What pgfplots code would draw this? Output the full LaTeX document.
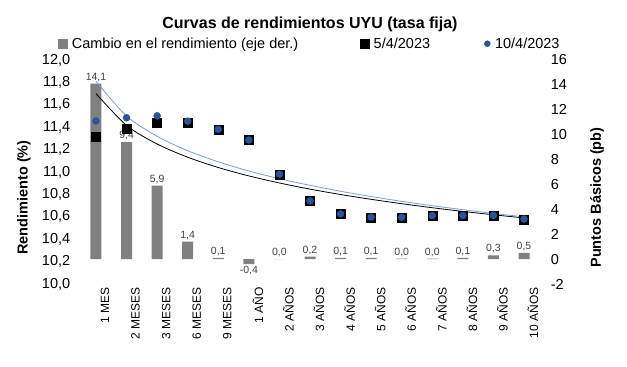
\documentclass[border=0pt]{standalone}
\usepackage{fontspec}
\setmainfont{Liberation Sans}
\usepackage{pgfplots}
\pgfplotsset{compat=1.18}
\definecolor{bargray}{RGB}{128,128,128}
\definecolor{dotblue}{RGB}{44,84,150}
\definecolor{trendblue}{RGB}{120,160,210}
\definecolor{lblgray}{RGB}{64,64,64}
\newcommand{\fbig}{\fontsize{14.5}{17}\selectfont}
\begin{document}
\begin{tikzpicture}
\path[use as bounding box] (0,0) rectangle (627pt,367pt);
% secondary axis: bars
\begin{axis}[
  at={(80.7pt,83pt)}, anchor=south west,
  scale only axis, width=458.6pt, height=224pt,
  xmin=0.5, xmax=15.5,
  ymin=-2, ymax=16, ytick={-2,0,...,16},
  axis y line*=right, axis x line=none,
  axis line style={draw=none}, major tick length=0pt,
  yticklabel style={font=\fbig, xshift=8pt},
  /pgf/number format/assume math mode=true,
  ylabel={\textbf{Puntos Básicos (pb)}},
  ylabel style={font=\fbig, at={(axis description cs:1.126,0.386)}, anchor=center},
  ybar, bar width=11pt,
  nodes near coords={\pgfmathprintnumber[fixed,precision=1,zerofill,use comma]{\pgfplotspointmeta}},
  nodes near coords align={vertical},
  every node near coord/.append style={font=\fontsize{10.5}{12}\selectfont, text=lblgray, inner sep=2pt},
]
\addplot[fill=bargray, draw=none] coordinates {
 (1,14.1) (2,9.4) (3,5.9) (4,1.4) (5,0.1) (6,-0.4) (7,0.0) (8,0.2)
 (9,0.1) (10,0.1) (11,0.04) (12,0.04) (13,0.1) (14,0.3) (15,0.5)};
\end{axis}
% primary axis: yields
\begin{axis}[
  at={(80.7pt,83pt)}, anchor=south west,
  scale only axis, width=458.6pt, height=224pt,
  xmin=0.5, xmax=15.5,
  ymin=10, ymax=12, ytick={10,10.2,...,12.01},
  axis y line*=left,
  axis line style={draw=none}, major tick length=0pt,
  xtick={1,...,15},
  xticklabels={1 MES,2 MESES,3 MESES,6 MESES,9 MESES,1 AÑO,2 AÑOS,3 AÑOS,4 AÑOS,5 AÑOS,6 AÑOS,7 AÑOS,8 AÑOS,9 AÑOS,10 AÑOS},
  xticklabel style={font=\fontsize{12}{14}\selectfont, rotate=90, anchor=east, yshift=-9pt},
  yticklabel style={font=\fbig, xshift=-7pt, /pgf/number format/.cd, fixed, precision=1, zerofill, use comma},
  /pgf/number format/assume math mode=true,
  ylabel={\textbf{Rendimiento (\%)}},
  ylabel style={font=\fbig, at={(axis description cs:-0.124,0.386)}, anchor=center},
  title={\textbf{Curvas de rendimientos UYU (tasa fija)}},
  title style={font=\fontsize{16}{19}\selectfont, at={(axis description cs:0.5,1)}, anchor=base, yshift=25pt},
  legend columns=3,
  legend style={draw=none, fill=none, font=\fbig, at={(0.5,1)}, anchor=center, yshift=16pt,
    /tikz/column 1/.style={column sep=2.5pt},
    /tikz/column 2/.style={column sep=60pt},
    /tikz/column 3/.style={column sep=2.5pt},
    /tikz/column 4/.style={column sep=52pt},
    /tikz/column 5/.style={column sep=2.5pt}},
]
\addlegendimage{legend image code/.code={\fill[bargray] (0pt,-4pt) rectangle (8.5pt,4.5pt);}}
\addlegendentry{Cambio en el rendimiento (eje der.)}
\addlegendimage{legend image code/.code={\fill[black] (0pt,-4pt) rectangle (8.5pt,4.5pt);}}
\addlegendentry{5/4/2023}
\addlegendimage{legend image code/.code={\fill[dotblue] (4pt,0.3pt) circle (3pt);}}
\addlegendentry{10/4/2023}
% trend lines
\addplot[black, line width=0.8pt, smooth, forget plot] coordinates {
 (1,11.700) (2,11.416) (3,11.250) (4,11.132) (5,11.040) (6,10.965) (7,10.902) (8,10.847)
 (9,10.799) (10,10.756) (11,10.717) (12,10.681) (13,10.648) (14,10.618) (15,10.590)};
\addplot[trendblue, line width=0.8pt, smooth, forget plot] coordinates {
 (1,11.810) (2,11.500) (3,11.319) (4,11.190) (5,11.091) (6,11.009) (7,10.940) (8,10.881)
 (9,10.828) (10,10.781) (11,10.738) (12,10.699) (13,10.664) (14,10.630) (15,10.600)};
% 5/4/2023
\addplot[only marks, mark=square*, mark size=4.5pt, mark options={fill=black, draw=black}, forget plot] coordinates {
 (1,11.315) (2,11.39) (3,11.443) (4,11.44) (5,11.38) (6,11.29) (7,10.98) (8,10.74)
 (9,10.625) (10,10.595) (11,10.595) (12,10.61) (13,10.61) (14,10.61) (15,10.575)};
% 10/4/2023
\addplot[only marks, mark=*, mark size=3.5pt, mark options={fill=dotblue, draw=dotblue}, forget plot] coordinates {
 (1,11.456) (2,11.484) (3,11.502) (4,11.454) (5,11.381) (6,11.286) (7,10.98) (8,10.742)
 (9,10.626) (10,10.596) (11,10.595) (12,10.61) (13,10.611) (14,10.613) (15,10.58)};
\end{axis}
\end{tikzpicture}
\end{document}
